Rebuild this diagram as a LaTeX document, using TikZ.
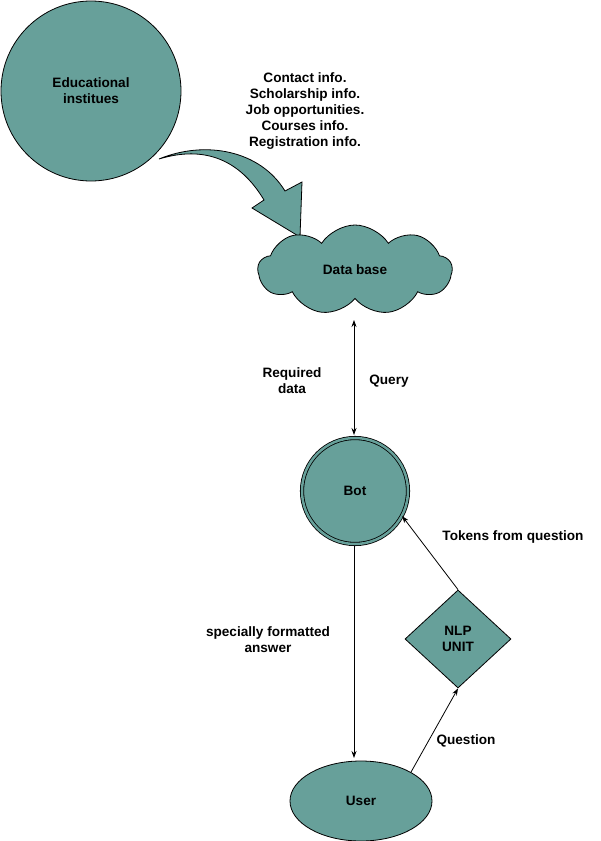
\documentclass[tikz,border=0pt]{standalone}
\usepackage{fontspec}
\setmainfont{Liberation Sans}
\usetikzlibrary{shapes.geometric,shapes.symbols,arrows.meta}
\definecolor{teal1}{RGB}{103,160,154}

\begin{document}
\begin{tikzpicture}[x=1pt, y=-1pt, line width=0.8pt, >={Stealth[length=7pt,width=5pt]},
    every node/.style = {font=\fontsize{13.6}{16}\selectfont\bfseries, align=center},
    part/.style = {draw, fill=teal1, inner sep=0pt}]
    \useasboundingbox (0,0) rectangle (601,841);

    \node[part, circle, minimum size=180] (Edu) at (91, 91) {Educational\\institues};
    \node (Info) at (305, 111) {Contact info.\\Scholarship info.\\Job opportunities.\\Courses info.\\Registration info.};

    % big curved arrow into the data base
    \filldraw[fill=teal1] (159, 159) .. controls (205, 140) and (260, 150) .. (285, 191)
        -- (302, 182) -- (300, 237) -- (252, 208) -- (264, 200)
        .. controls (240, 160) and (205, 145) .. cycle;

    \node[part, cloud, cloud puffs=9, cloud puff arc=115, aspect=2.2,
        minimum width=194, minimum height=90] (DB) at (355, 270) {Data base};
    \node[part, circle, minimum size=106, double=teal1, double distance=2.5pt] (Bot) at (355, 491) {Bot};
    \node[part, diamond, minimum width=106, minimum height=98] (NLP) at (458, 639) {NLP\\UNIT};
    \node[part, ellipse, minimum width=142, minimum height=80] (User) at (361, 801) {User};

    \draw[<->] (354, 320) -- (354, 435);
    \node (Req) at (292, 381) {Required\\data};
    \node (Query) at (389, 381) {Query};

    \draw[->] (Bot.south -| 354, 0) ++(0, 2) -- (354, 758);
    \node (Ans) at (268, 640) {specially formatted\\answer};

    \draw[->] (User.30) -- (NLP.south);
    \node (Q) at (466, 741) {Question};

    \draw[->] (NLP.north) -- (Bot.-28);
    \node (Tok) at (513, 537) {Tokens from question};
\end{tikzpicture}
\end{document}
